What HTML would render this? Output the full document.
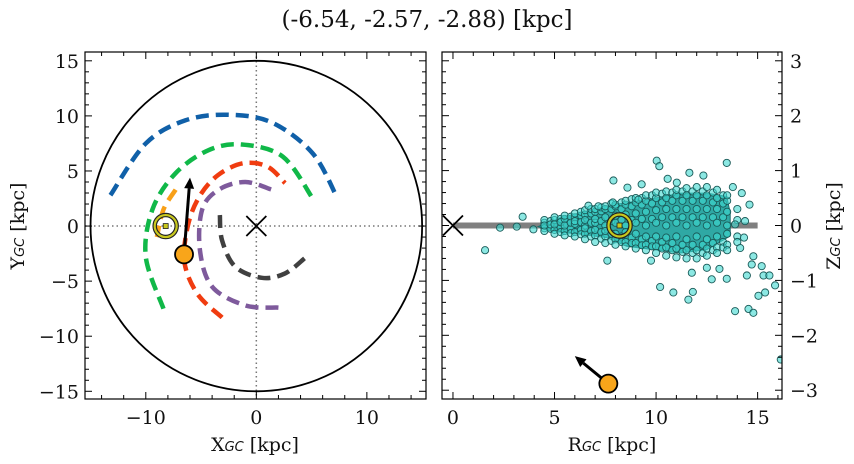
<!DOCTYPE html>
<html><head><meta charset="utf-8">
<style>
html,body{margin:0;padding:0;background:#fff}
svg{display:block}
text{font-family:"DejaVu Serif","Liberation Serif",serif;fill:#111}
</style></head>
<body>
<svg id="chart" width="854" height="464" viewBox="0 0 854 464" xmlns="http://www.w3.org/2000/svg">
<text x="427" y="27" font-size="23" text-anchor="middle">(-6.54, -2.57, -2.88) [kpc]</text>
<g id="left"></g>
<g id="right"></g>
</svg>
<script>
// ---------- data ----------
const leftXTicks = [-10, 0, 10];
const leftYTicks = [-15, -10, -5, 0, 5, 10, 15];
const rightXTicks = [0, 5, 10, 15];
const rightYTicks = [-3, -2, -1, 0, 1, 2, 3];
const orbitBlue = [[-13.2,2.8],[-10,7.5],[-6.4,9.6],[-2.5,10.1],[1.4,9.4],[5.1,6.6],[7.3,2.6]];
const orbitGreen = [[-8.4,-7.5],[-10,-2.8],[-9.4,1.5],[-7.3,4.8],[-4.3,6.9],[-1.3,7.4],[2.4,6.3],[5.1,2.5]];
const orbitRed = [[-3.1,-8.3],[-5.3,-6.2],[-6.5,-3.3],[-6.2,0],[-5.2,2.6],[-3.5,4.6],[-1.2,5.7],[1.0,5.4],[2.6,3.9]];
const orbitPurple = [[2,-7.4],[-1,-7.2],[-4,-5.5],[-5.1,-2.2],[-4.9,1.5],[-3.4,3.3],[-1,4],[1.4,3.3]];
const orbitGray = [[-3.3,1],[-3.1,-1.3],[-1.9,-3.7],[0.5,-4.7],[2.6,-4.3],[4.4,-2.9]];
const orbitOrange = [[-7.3,3.3],[-8.4,1.5],[-9,-1]];
const objectXY = [-6.54, -2.57];
const arrowXY = [-6.0, 4.4];
const sunXY = [-8.2, 0];
const objectRZ = [7.65, -2.88];
const arrowRZ = [6.0, -2.38];
const sunRZ = [8.2, 0];
const outR = [1.58,2.32,3.14,3.43,3.96,7.9,8.59,9.29,10.03,10.16,11.64,12.33,13.48,13.78,14.22,14.6,14.38,13.89,14.33,14.14,14.79,14.71,15.2,15.29,15.58,14.47,15.86,15.37,15.04,14.55,14.79,13.89,13.48,12.74,13.12,12.5,11.76,10.2,10.85,11.59,11.81,9.75,7.6,16.14,6.67,7.16,10.57,11.02,9.13,7.87];
const outZ = [-0.45,-0.04,-0.02,0.16,-0.07,0.82,0.69,0.75,1.18,1.08,0.96,0.91,1.14,0.70,0.59,0.38,0.08,0.02,-0.22,-0.41,-0.56,-0.71,-0.74,-0.91,-0.91,-0.91,-1.09,-1.22,-1.28,-1.52,-1.59,-1.56,-0.97,-0.98,-0.79,-0.77,-0.86,-1.12,-1.22,-1.35,-1.21,-0.64,-0.64,-2.44,0.36,0.35,0.85,0.78,0.47,0.42];
const cloudEnvR = [4.19,5.26,6.57,7.9,9.54,11.18,12.5,13.48,13.65,13.65,12.5,11.18,9.87,8.56,7.57,6.26,4.78];
const cloudEnvZ = [-0.02,0.14,0.26,0.38,0.47,0.59,0.59,0.53,0.23,-0.19,-0.44,-0.5,-0.44,-0.38,-0.22,-0.16,-0.1];
const cloudRows = [
 [4.5,[0.05,-0.05,0.1,-0.1,0]],[4.8,[0.08,-0.06,0.02]],
 [5,[0.1,-0.08,0.02,-0.15,0.15]],[5.3,[0.12,-0.04,0.06,-0.12]],
 [5.5,[0.12,-0.1,0,0.18,-0.18]],[5.8,[0.16,-0.06,0.05,-0.14]],
 [6,[0.15,-0.12,0.03,0.22,-0.2,0.08]],[6.3,[0.18,-0.08,0.06,-0.16,0.25]],
 [6.5,[0.2,-0.15,0,0.28,-0.25,0.1,-0.05]],[6.8,[0.22,-0.1,0.05,-0.2,0.3]],
 [7,[0.25,-0.18,0.05,0.3,-0.3,0.12,-0.08]],[7.3,[0.26,-0.12,0.08,-0.24,0.33]],
 [7.5,[0.3,-0.2,0,0.35,-0.32,0.15,-0.1]],[7.8,[0.3,-0.15,0.08,-0.28,0.4]],
 [8,[0.35,-0.25,0.05,0.38,-0.35,0.18,-0.15]],[8.3,[0.3,-0.2,0.1,-0.3,0.42]],
 [8.5,[0.38,-0.3,0,0.45,-0.38,0.2,-0.12]],[8.8,[0.35,-0.22,0.1,-0.32,0.48]],
 [9,[0.42,-0.32,0.05,0.5,-0.42,0.22,-0.15]],[9.3,[0.38,-0.25,0.12,-0.36,0.5]],
 [9.5,[0.45,-0.35,0,0.55,-0.45,0.25,-0.2]],[9.8,[0.4,-0.28,0.12,-0.38,0.55]],
 [10,[0.5,-0.38,0.05,0.6,-0.5,0.28,-0.2]],[10.3,[0.42,-0.3,0.15,-0.42,0.58]],
 [10.5,[0.5,-0.4,0,0.62,-0.55,0.3,-0.22]],[10.8,[0.45,-0.32,0.15,-0.45,0.6]],
 [11,[0.55,-0.42,0.05,0.65,-0.58,0.3,-0.2]],[11.3,[0.45,-0.35,0.15,-0.48,0.62]],
 [11.5,[0.55,-0.45,0,0.68,-0.6,0.3,-0.25]],[11.8,[0.45,-0.35,0.15,-0.5,0.62]],
 [12,[0.55,-0.45,0.05,0.7,-0.6,0.3,-0.2]],[12.3,[0.45,-0.35,0.15,-0.5,0.62]],
 [12.5,[0.55,-0.42,0,0.7,-0.55,0.3,-0.25]],[12.8,[0.42,-0.32,0.15,-0.45,0.6]],
 [13,[0.5,-0.4,0.05,0.65,-0.5,0.3,-0.2]],[13.3,[0.4,-0.3,0.15,-0.4,0.55]],
 [13.5,[0.45,-0.35,0,0.55,-0.45,0.25,-0.15]],[14,[0.3,-0.2,0.1,-0.3]]
];
// ---------- helpers ----------
const NS = "http://www.w3.org/2000/svg";
function mk(parent, tag, attrs) {
  const e = document.createElementNS(NS, tag);
  for (const k in attrs) e.setAttribute(k, attrs[k]);
  parent.appendChild(e);
  return e;
}
function catmull(pts) {
  let d = "M" + pts[0][0] + "," + pts[0][1];
  for (let i = 0; i < pts.length - 1; i++) {
    const p0 = pts[Math.max(0, i - 1)], p1 = pts[i], p2 = pts[i + 1], p3 = pts[Math.min(pts.length - 1, i + 2)];
    const c1 = [p1[0] + (p2[0] - p0[0]) / 6, p1[1] + (p2[1] - p0[1]) / 6];
    const c2 = [p2[0] - (p3[0] - p1[0]) / 6, p2[1] - (p3[1] - p1[1]) / 6];
    d += " C" + c1[0] + "," + c1[1] + " " + c2[0] + "," + c2[1] + " " + p2[0] + "," + p2[1];
  }
  return d;
}
function frame(g, L, T, R, B, sx, sy, xt, yt, xr, xmaj, xminr, yr, ymaj, yminStep, labelSide) {
  for (let v = Math.ceil(xr.lo / xminr) * xminr; v <= xr.hi + 1e-9; v += xminr) {
    const px = sx(v); const maj = Math.abs(v / xmaj - Math.round(v / xmaj)) < 1e-6;
    const len = maj ? 7 : 4;
    mk(g, "line", {x1: px, x2: px, y1: B, y2: B - len, stroke: "#000", "stroke-width": 1});
    mk(g, "line", {x1: px, x2: px, y1: T, y2: T + len, stroke: "#000", "stroke-width": 1});
  }
  for (let v = Math.ceil(yr.lo / yminStep) * yminStep; v <= yr.hi + 1e-9; v += yminStep) {
    const py = sy(v); const maj = Math.abs(v / ymaj - Math.round(v / ymaj)) < 1e-6;
    const len = maj ? 7 : 4;
    mk(g, "line", {x1: L, x2: L + len, y1: py, y2: py, stroke: "#000", "stroke-width": 1});
    mk(g, "line", {x1: R, x2: R - len, y1: py, y2: py, stroke: "#000", "stroke-width": 1});
  }
  mk(g, "rect", {x: L, y: T, width: R - L, height: B - T, fill: "none", stroke: "#000", "stroke-width": 1.2});
  xt.forEach(v => {
    const t = mk(g, "text", {x: sx(v), y: B + 25, "font-size": 19, "text-anchor": "middle"});
    t.textContent = v < 0 ? "\u2212" + Math.abs(v) : String(v);
    
    
  });
  yt.forEach(v => {
    const t = mk(g, "text", {x: labelSide === "left" ? L - 6 : R + 8, y: sy(v) + 7, "font-size": 19, "text-anchor": labelSide === "left" ? "end" : "start"});
    t.textContent = v < 0 ? "\u2212" + Math.abs(v) : String(v);
    
    
  });
}
function arrow(g, x1, y1, x2, y2) {
  const a = Math.atan2(y2 - y1, x2 - x1), h = 11, w = 5;
  const bx = x2 - h * Math.cos(a), by = y2 - h * Math.sin(a);
  mk(g, "line", {x1: x1, y1: y1, x2: bx, y2: by, stroke: "#000", "stroke-width": 3});
  const p = mk(g, "polygon", {points: [x2, y2, bx + w * Math.sin(a), by - w * Math.cos(a), bx - w * Math.sin(a), by + w * Math.cos(a)].join(","), fill: "#000"});
  
  
}
function sunMark(g, x, y) {
  const c = mk(g, "circle", {cx: x, cy: y, r: 11, fill: "none", stroke: "#222", "stroke-width": 4.5});
  mk(g, "circle", {cx: x, cy: y, r: 11, fill: "none", stroke: "#c8c81e", "stroke-width": 2.2});
  mk(g, "rect", {x: x - 2.5, y: y - 2.5, width: 5, height: 5, fill: "#c8c81e", stroke: "#222", "stroke-width": 0.8});
  
  
}
function xMark(g, x, y, s) {
  const p = mk(g, "path", {d: `M${x-s},${y-s}L${x+s},${y+s}M${x-s},${y+s}L${x+s},${y-s}`, stroke: "#000", "stroke-width": 1.8, fill: "none"});
  
  
}
// ---------- left panel ----------
(function () {
  const g = document.getElementById("left");
  const L = 85, R = 426, T = 52, B = 399;
  const x0 = -15.5, x1 = 15.35, y0 = -15.7, y1 = 15.8;
  const sx = v => L + (v - x0) / (x1 - x0) * (R - L);
  const sy = v => B - (v - y0) / (y1 - y0) * (B - T);
  const cp = mk(mk(g, "defs", {}), "clipPath", {id: "clipL"});
  mk(cp, "rect", {x: L, y: T, width: R - L, height: B - T});
  const inner = mk(g, "g", {"clip-path": "url(#clipL)"});
  mk(inner, "line", {x1: L, x2: R, y1: sy(0), y2: sy(0), stroke: "#777", "stroke-width": 1.5, "stroke-dasharray": "1.5,3"});
  mk(inner, "line", {x1: sx(0), x2: sx(0), y1: T, y2: B, stroke: "#777", "stroke-width": 1.5, "stroke-dasharray": "1.5,3"});
  const disk = mk(inner, "ellipse", {cx: sx(0), cy: sy(0), rx: sx(15) - sx(0), ry: sy(0) - sy(15), fill: "none", stroke: "#000", "stroke-width": 1.8});
  
  
  const orbits = [[orbitBlue, "#1060a8", "orbit-blue"], [orbitGreen, "#10b848", "orbit-green"], [orbitRed, "#f03c10", "orbit-red"], [orbitPurple, "#7e5a9c", "orbit-purple"], [orbitGray, "#404040", "orbit-gray"], [orbitOrange, "#f8a018", "orbit-orange"]];
  orbits.forEach(o => {
    const pts = o[0].map(p => [sx(p[0]), sy(p[1])]);
    const path = mk(inner, "path", {d: catmull(pts), fill: "none", stroke: o[1], "stroke-width": 4.5, "stroke-dasharray": "13,7"});
    
    
  });
  sunMark(inner, sx(sunXY[0]), sy(sunXY[1]));
  xMark(inner, sx(0), sy(0), 10);
  arrow(inner, sx(objectXY[0]), sy(objectXY[1]), sx(arrowXY[0]), sy(arrowXY[1]));
  const ob = mk(inner, "circle", {cx: sx(objectXY[0]), cy: sy(objectXY[1]), r: 9, fill: "#f8a51a", stroke: "#000", "stroke-width": 1.8});
  
  
  frame(g, L, T, R, B, sx, sy, leftXTicks, leftYTicks, {lo: x0, hi: x1}, 10, 2, {lo: y0, hi: y1}, 5, 1, "left");
  const xl = mk(g, "text", {x: 255, y: 451, "font-size": 19, "text-anchor": "middle"});
  xl.innerHTML = 'X<tspan font-family="DejaVu Sans" font-style="italic" font-size="13">GC</tspan> [kpc]';
  
  
  const yl = mk(g, "text", {x: 0, y: 0, "font-size": 19, "text-anchor": "middle", transform: "translate(24,226) rotate(-90)"});
  yl.innerHTML = 'Y<tspan font-family="DejaVu Sans" font-style="italic" font-size="13">GC</tspan> [kpc]';
  
  
})();
// ---------- right panel ----------
(function () {
  const g = document.getElementById("right");
  const L = 442, R = 782, T = 52, B = 399;
  const x0 = -0.54, x1 = 16.2, y0 = -3.16, y1 = 3.16;
  const sx = v => L + (v - x0) / (x1 - x0) * (R - L);
  const sy = v => B - (v - y0) / (y1 - y0) * (B - T);
  const cp = mk(mk(g, "defs", {}), "clipPath", {id: "clipR"});
  mk(cp, "rect", {x: L, y: T, width: R - L, height: B - T});
  const inner = mk(g, "g", {"clip-path": "url(#clipR)"});
  const disk = mk(inner, "line", {x1: sx(0), x2: sx(15), y1: sy(0), y2: sy(0), stroke: "#808080", "stroke-width": 6});
  
  
  const env = mk(inner, "polygon", {points: cloudEnvR.map((r, i) => sx(r) + "," + sy(cloudEnvZ[i])).join(" "), fill: "#2fa8a4", stroke: "#1c6e6c", "stroke-width": 1});
  
  
  const drawPt = (r, z) => {
    const c = mk(inner, "circle", {cx: sx(r), cy: sy(z), r: 3.6, fill: "#40d8d0", "fill-opacity": 0.6, stroke: "#1a5a58", "stroke-width": 0.9});
    
    
  };
  cloudRows.forEach(row => row[1].forEach(z => drawPt(row[0], z)));
  outR.forEach((r, i) => drawPt(r, outZ[i]));
  sunMark(inner, sx(sunRZ[0]), sy(sunRZ[1]));
  xMark(inner, sx(0), sy(0), 10);
  arrow(inner, sx(objectRZ[0]), sy(objectRZ[1]), sx(arrowRZ[0]), sy(arrowRZ[1]));
  const ob = mk(inner, "circle", {cx: sx(objectRZ[0]), cy: sy(objectRZ[1]), r: 9, fill: "#f8a51a", stroke: "#000", "stroke-width": 1.8});
  
  
  frame(g, L, T, R, B, sx, sy, rightXTicks, rightYTicks, {lo: x0, hi: x1}, 5, 1, {lo: y0, hi: y1}, 1, 0.2, "right");
  const xl = mk(g, "text", {x: 612, y: 451, "font-size": 19, "text-anchor": "middle"});
  xl.innerHTML = 'R<tspan font-family="DejaVu Sans" font-style="italic" font-size="13">GC</tspan> [kpc]';
  
  
  const yl = mk(g, "text", {x: 0, y: 0, "font-size": 19, "text-anchor": "middle", transform: "translate(840,226) rotate(-90)"});
  yl.innerHTML = 'Z<tspan font-family="DejaVu Sans" font-style="italic" font-size="13">GC</tspan> [kpc]';
  
  
})();
</script>
</body></html>
